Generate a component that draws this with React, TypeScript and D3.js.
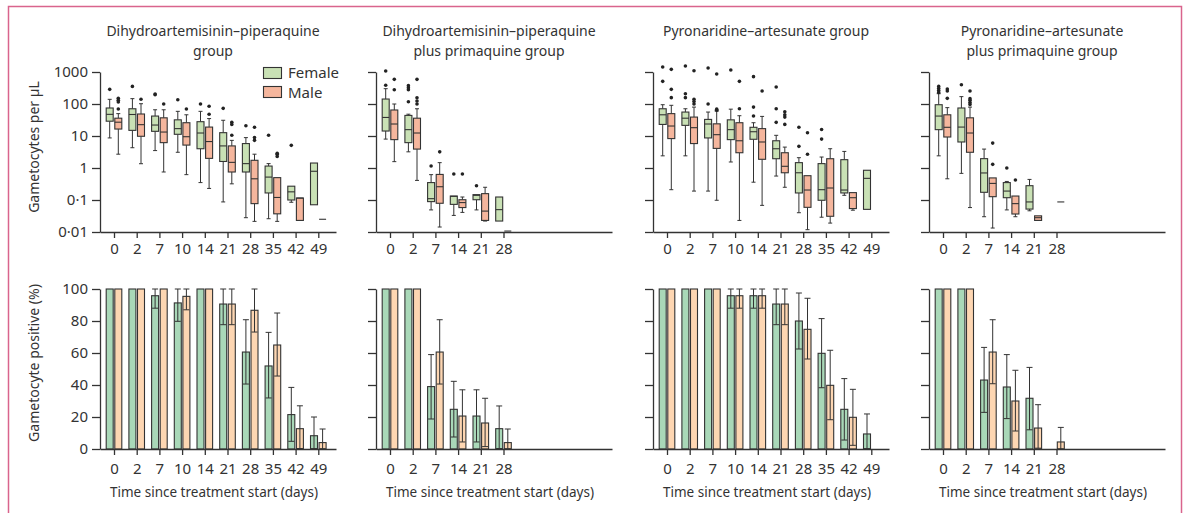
import React, { useEffect, useRef } from "react";
import * as d3 from "d3";

// box = [whisker low, q1, median, q3, whisker high], null = no data
type Box = number[] | null;

const dpDays = [0, 2, 7, 10, 14, 21, 28, 35, 42, 49];
const dpPqDays = [0, 2, 7, 14, 21, 28];
const paDays = [0, 2, 7, 10, 14, 21, 28, 35, 42, 49];
const paPqDays = [0, 2, 7, 14, 21, 28];

const titles = [
  ["Dihydroartemisinin–piperaquine", "group"],
  ["Dihydroartemisinin–piperaquine", "plus primaquine group"],
  ["Pyronaridine–artesunate group"],
  ["Pyronaridine–artesunate", "plus primaquine group"],
];

const logTicks = [0.01, 0.1, 1, 10, 100, 1000];
const pctTicks = [0, 20, 40, 60, 80, 100];

// gametocyte density boxes
const dpFemaleBox: Box[] = [
  [8.7, 29, 47.5, 75, 140], [4.3, 15, 47, 71, 147], [3.5, 14, 22, 42, 66], [3.1, 11.3, 17, 32, 59],
  [0.35, 4.0, 12.4, 28, 59], [0.087, 1.6, 4.9, 12.7, 31], [0.028, 0.75, 1.37, 5.8, 8.9],
  [0.026, 0.166, 0.52, 1.15, 1.37], [0.085, 0.1, 0.18, 0.27, 0.27], [0.071, 0.071, 0.79, 1.43, 1.43],
];
const dpFemaleOut = [[287], [355], [205, 195], [136], [100], [73], [21], [10.5], [5.1], []];
const dpMaleBox: Box[] = [
  [2.7, 16.5, 27, 36, 50], [1.36, 9.8, 22.6, 48.7, 102], [0.75, 6.2, 13.3, 37, 66], [0.62, 5.2, 9.5, 26, 46],
  [0.23, 2.0, 6.7, 19, 35], [0.32, 0.75, 1.5, 4.9, 7.3], [0.0215, 0.077, 0.46, 1.74, 2.7],
  [0.0215, 0.037, 0.12, 0.5, 0.5], [0.023, 0.023, 0.115, 0.115, 0.115], [0.025, 0.025, 0.025, 0.025, 0.025],
];
const dpMaleOut = [[150, 130, 115, 70], [140], [100], [70], [85, 48], [27, 23, 10.5], [18.7, 8.9, 7.3], [2.9, 2.7, 2.3], [], []];

const dpPqFemaleBox: Box[] = [
  [8, 14.3, 38, 143, 301], [3.2, 6.2, 15.8, 44, 48], [0.049, 0.089, 0.11, 0.35, 0.62],
  [0.033, 0.073, 0.13, 0.133, 0.133], [0.049, 0.102, 0.14, 0.147, 0.147], [0.022, 0.022, 0.05, 0.124, 0.124],
];
const dpPqFemaleOut = [[1070, 385], [375, 320, 280, 118], [1.15], [0.65], [0.28], []];
const dpPqMaleBox: Box[] = [
  [1.58, 7.7, 23.7, 65, 100], [0.41, 3.9, 12.4, 36, 71], [0.0143, 0.079, 0.26, 0.63, 1.47],
  [0.041, 0.058, 0.083, 0.102, 0.124], [0.022, 0.023, 0.045, 0.158, 0.25], [0.0107, 0.0107, 0.0107, 0.0107, 0.0107],
];
const dpPqMaleOut = [[590, 280], [590, 157, 124, 100], [3.2], [0.65], [], []];

const paFemaleBox: Box[] = [
  [2.4, 23, 46, 71, 95], [2.4, 21.5, 36, 56, 71], [0.19, 8.7, 23.7, 33, 56], [1.54, 7.7, 15.8, 32, 69],
  [0.36, 7.9, 13.6, 18.7, 26], [0.56, 1.95, 4.0, 7.1, 10.5], [0.04, 0.166, 0.71, 1.47, 2.1],
  [0.029, 0.098, 0.21, 1.37, 2.2], [0.14, 0.166, 0.205, 1.82, 3.3], [0.051, 0.051, 0.475, 0.85, 0.85],
];
const paFemaleOut = [[1430, 510], [1540, 210, 158], [1330, 100], [1150], [715, 80, 42], [340, 71, 26.7], [18.7, 4.75], [16, 8], [], []];
const paMaleBox: Box[] = [
  [0.21, 8.3, 20.5, 50, 91], [0.19, 5.8, 18.2, 39, 80], [0.098, 4.1, 11, 24, 60], [0.023, 3.0, 7.1, 26, 43],
  [0.068, 1.87, 6.5, 17, 41], [0.25, 0.71, 1.13, 3.0, 4.5], [0.0118, 0.059, 0.205, 0.575, 0.575],
  [0.019, 0.031, 0.237, 1.95, 4.0], [0.048, 0.054, 0.118, 0.17, 0.17], null,
];
const paMaleOut = [[1210, 287, 158], [1100, 140, 120, 100], [870, 69, 64], [510, 71], [255], [57.5, 46, 39, 23], [12.7, 2.7], [], [], []];

const paPqFemaleBox: Box[] = [
  [2.4, 15.8, 42, 95, 210], [0.68, 6.5, 19, 75, 170], [0.03, 0.174, 0.7, 1.96, 3.9],
  [0.049, 0.118, 0.19, 0.35, 0.38], [0.046, 0.052, 0.087, 0.28, 0.44], null,
];
const paPqFemaleOut = [[355, 305, 265, 230], [400], [], [1.0], [], []];
const paPqMaleBox: Box[] = [
  [0.46, 9.3, 18.7, 46, 77], [0.058, 3.1, 12.4, 37, 80], [0.0133, 0.127, 0.33, 0.49, 0.49],
  [0.03, 0.0365, 0.077, 0.133, 0.133], [0.023, 0.023, 0.028, 0.032, 0.032], [0.087, 0.087, 0.087, 0.087, 0.087],
];
const paPqMaleOut = [[295, 255, 150], [255, 147, 130, 112, 97], [6.0, 1.3], [0.42], [], []];

// gametocyte positive (%), with 95% CI
const dpFemalePct = [100, 100, 95.8, 91.3, 100, 90.6, 60.6, 51.9, 21.5, 8.3];
const dpFemaleLo = [100, 100, 88, 79.8, 100, 77.7, 40.6, 31.9, 4.8, 0.2];
const dpFemaleHi = [100, 100, 100, 100, 100, 100, 80.8, 72.9, 38.5, 20];
const dpMalePct = [100, 100, 100, 95.4, 100, 90.6, 86.7, 65, 12.7, 4];
const dpMaleLo = [100, 100, 100, 87, 100, 77.7, 73.1, 45.6, 0.3, 0.1];
const dpMaleHi = [100, 100, 100, 100, 100, 100, 100, 85, 27, 12.5];

const dpPqFemalePct = [100, 100, 39, 24.8, 20.6, 12.7];
const dpPqFemaleLo = [100, 100, 18.75, 7.5, 4.4, 0.3];
const dpPqFemaleHi = [100, 100, 59, 42.3, 37, 26.9];
const dpPqMalePct = [100, 100, 60.6, 20.6, 16.25, 4];
const dpPqMaleLo = [100, 100, 40.6, 4.4, 1.5, 0.1];
const dpPqMaleHi = [100, 100, 80.8, 37, 31.7, 12.5];

const paFemalePct = [100, 100, 100, 95.8, 95.8, 90.6, 80, 59.8, 24.8, 9.4];
const paFemaleLo = [100, 100, 100, 88, 88, 77.7, 62.5, 38.3, 5.6, 0.2];
const paFemaleHi = [100, 100, 100, 100, 100, 100, 97.5, 81.5, 44, 21.9];
const paMalePct = [100, 100, 100, 95.8, 95.8, 90.6, 74.8, 39.8, 19.8, 0];
const paMaleLo = [100, 100, 100, 88, 88, 77.7, 56.25, 18.3, 2.3, 0];
const paMaleHi = [100, 100, 100, 100, 100, 100, 94.2, 61.7, 37.3, 0];

const paPqFemalePct = [100, 100, 43.1, 38.75, 31.7, 0];
const paPqFemaleLo = [100, 100, 22.9, 19, 12, 0];
const paPqFemaleHi = [100, 100, 63.5, 59, 51, 0];
const paPqMalePct = [100, 100, 60.6, 30, 13.1, 4.4];
const paPqMaleLo = [100, 100, 40.8, 11.25, 0.5, 0];
const paPqMaleHi = [100, 100, 80.8, 49.2, 27.7, 13.5];

const panels = [
  { days: dpDays, fBox: dpFemaleBox, fOut: dpFemaleOut, mBox: dpMaleBox, mOut: dpMaleOut,
    fPct: dpFemalePct, fLo: dpFemaleLo, fHi: dpFemaleHi, mPct: dpMalePct, mLo: dpMaleLo, mHi: dpMaleHi },
  { days: dpPqDays, fBox: dpPqFemaleBox, fOut: dpPqFemaleOut, mBox: dpPqMaleBox, mOut: dpPqMaleOut,
    fPct: dpPqFemalePct, fLo: dpPqFemaleLo, fHi: dpPqFemaleHi, mPct: dpPqMalePct, mLo: dpPqMaleLo, mHi: dpPqMaleHi },
  { days: paDays, fBox: paFemaleBox, fOut: paFemaleOut, mBox: paMaleBox, mOut: paMaleOut,
    fPct: paFemalePct, fLo: paFemaleLo, fHi: paFemaleHi, mPct: paMalePct, mLo: paMaleLo, mHi: paMaleHi },
  { days: paPqDays, fBox: paPqFemaleBox, fOut: paPqFemaleOut, mBox: paPqMaleBox, mOut: paPqMaleOut,
    fPct: paPqFemalePct, fLo: paPqFemaleLo, fHi: paPqFemaleHi, mPct: paPqMalePct, mLo: paPqMaleLo, mHi: paPqMaleHi },
];

const FONT = "'Noto Sans', sans-serif";
const INK = "#333";
const boxFem = "#c9e1b5";
const boxMale = "#f5b69d";
const barFem = "#a9d8b8";
const barMale = "#fdd6b2";

export default function App() {
  const ref = useRef<SVGSVGElement>(null);

  useEffect(() => {
    const svg = d3.select(ref.current);
    svg.selectAll("*").remove();

    // pink frame
    svg.append("rect").attr("x", 8.5).attr("y", 6.5).attr("width", 1173).attr("height", 520)
      .attr("fill", "none").attr("stroke", "#d9648d").attr("stroke-width", 1.5);

    const lefts = [100, 376, 653, 929];
    const step = 22.7;
    const axisLen = 236;
    const yLog = d3.scaleLog().domain([0.01, 1000]).range([232, 72]);
    const yPct = d3.scaleLinear().domain([0, 100]).range([449, 289]);
    const fmtLog = (d: number) => String(d).replace(".", "·");

    const styleAxis = (g: any, size: number) => {
      g.selectAll("path.domain").attr("stroke", INK).attr("stroke-width", 1.3);
      g.selectAll(".tick line").attr("stroke", INK).attr("stroke-width", 1.3);
      g.selectAll("text").attr("font-family", FONT).attr("font-size", size).attr("fill", INK);
    };

    panels.forEach((p, pi) => {
      const left = lefts[pi];
      const x = d3.scaleLinear()
        .domain([-14 / step, (axisLen - 14) / step])
        .range([left, left + axisLen]);
      const idx = p.days.map((_, i) => i);

      // titles
      const cx = left + 113;
      titles[pi].forEach((t, li) => {
        svg.append("text").attr("x", cx).attr("y", 36 + li * 20).attr("text-anchor", "middle")
          .attr("font-family", FONT).attr("font-size", 14).attr("fill", INK).text(t);
      });

      // ---------- top: box plots ----------
      const gy = svg.append("g").attr("transform", `translate(${left},0)`)
        .call(d3.axisLeft(yLog).tickValues(logTicks).tickSize(8).tickPadding(4).tickSizeOuter(0)
          .tickFormat((d: any) => (pi === 0 ? fmtLog(d) : "")));
      styleAxis(gy, 15);
      const gx = svg.append("g").attr("transform", `translate(0,232)`)
        .call(d3.axisBottom(x).tickValues(idx).tickSize(6).tickPadding(5).tickSizeOuter(0)
          .tickFormat((i: any) => String(p.days[i])));
      styleAxis(gx, 15);

      const bw = 7;
      const drawBox = (b: Box, outs: number[], cxp: number, fill: string) => {
        if (!b) return;
        const [wl, q1, md, q3, wh] = b;
        const g = svg.append("g");
        if (wh > q3) {
          g.append("line").attr("x1", cxp).attr("x2", cxp).attr("y1", yLog(q3)).attr("y2", yLog(wh)).attr("stroke", INK);
          g.append("line").attr("x1", cxp - 2).attr("x2", cxp + 2).attr("y1", yLog(wh)).attr("y2", yLog(wh)).attr("stroke", INK);
        }
        if (wl < q1) {
          g.append("line").attr("x1", cxp).attr("x2", cxp).attr("y1", yLog(q1)).attr("y2", yLog(wl)).attr("stroke", INK);
          g.append("line").attr("x1", cxp - 2).attr("x2", cxp + 2).attr("y1", yLog(wl)).attr("y2", yLog(wl)).attr("stroke", INK);
        }
        g.append("rect").attr("x", cxp - bw / 2).attr("y", yLog(q3)).attr("width", bw)
          .attr("height", Math.max(0, yLog(q1) - yLog(q3))).attr("fill", fill).attr("stroke", INK).attr("stroke-width", 1.1);
        g.append("line").attr("x1", cxp - bw / 2).attr("x2", cxp + bw / 2).attr("y1", yLog(md)).attr("y2", yLog(md))
          .attr("stroke", INK).attr("stroke-width", 1.1);
        outs.forEach((o) => {
          g.append("circle").attr("cx", cxp).attr("cy", yLog(o)).attr("r", 1.8).attr("fill", "#222");
        });
      };
      idx.forEach((i) => {
        drawBox(p.fBox[i], p.fOut[i], x(i) - 4.3, boxFem);
        drawBox(p.mBox[i], p.mOut[i], x(i) + 4.3, boxMale);
      });

      // ---------- bottom: % positive ----------
      const gy2 = svg.append("g").attr("transform", `translate(${left},0)`)
        .call(d3.axisLeft(yPct).tickValues(pctTicks).tickSize(8).tickPadding(4).tickSizeOuter(0)
          .tickFormat((d: any) => (pi === 0 ? String(d) : "")));
      styleAxis(gy2, 15);

      const drawBar = (v: number, lo: number, hi: number, cxp: number, fill: string) => {
        const g = svg.append("g");
        g.append("rect").attr("x", cxp - bw / 2).attr("y", yPct(v)).attr("width", bw)
          .attr("height", yPct(0) - yPct(v)).attr("fill", fill).attr("stroke", INK).attr("stroke-width", 1.1);
        if (hi > lo) {
          g.append("line").attr("x1", cxp).attr("x2", cxp).attr("y1", yPct(lo)).attr("y2", yPct(hi)).attr("stroke", INK);
          [lo, hi].forEach((e) => {
            g.append("line").attr("x1", cxp - 3).attr("x2", cxp + 3).attr("y1", yPct(e)).attr("y2", yPct(e)).attr("stroke", INK);
          });
        }
      };
      idx.forEach((i) => {
        drawBar(p.fPct[i], p.fLo[i], p.fHi[i], x(i) - 4.3, barFem);
        drawBar(p.mPct[i], p.mLo[i], p.mHi[i], x(i) + 4.3, barMale);
      });

      const gx2 = svg.append("g").attr("transform", `translate(0,449)`)
        .call(d3.axisBottom(x).tickValues(idx).tickSize(6).tickPadding(8).tickSizeOuter(0)
          .tickFormat((i: any) => String(p.days[i])));
      styleAxis(gx2, 15);

      svg.append("text").attr("x", left + 114).attr("y", 497).attr("text-anchor", "middle")
        .attr("font-family", FONT).attr("font-size", 13.5).attr("fill", INK)
        .text("Time since treatment start (days)");
    });

    // y-axis titles
    [["Gametocytes per µL", 147], ["Gametocyte positive (%)", 363]].forEach(([t, cy]) => {
      svg.append("text").attr("transform", `translate(39,${cy}) rotate(-90)`).attr("text-anchor", "middle")
        .attr("font-family", FONT).attr("font-size", 14).attr("fill", INK).text(t as string);
    });

    // legend
    [["Female", boxFem], ["Male", boxMale]].forEach(([t, c], i) => {
      svg.append("rect").attr("x", 263.5).attr("y", 67.5 + i * 19).attr("width", 18).attr("height", 11)
        .attr("fill", c).attr("stroke", INK).attr("stroke-width", 1.1);
      svg.append("text").attr("x", 288).attr("y", 78 + i * 19.5).attr("font-family", FONT)
        .attr("font-size", 15).attr("fill", INK).text(t);
    });
  }, []);

  return (
    <svg ref={ref} width={1187} height={513}
      style={{ position: "absolute", left: 0, top: 0, background: "#fff", display: "block" }} />
  );
}
